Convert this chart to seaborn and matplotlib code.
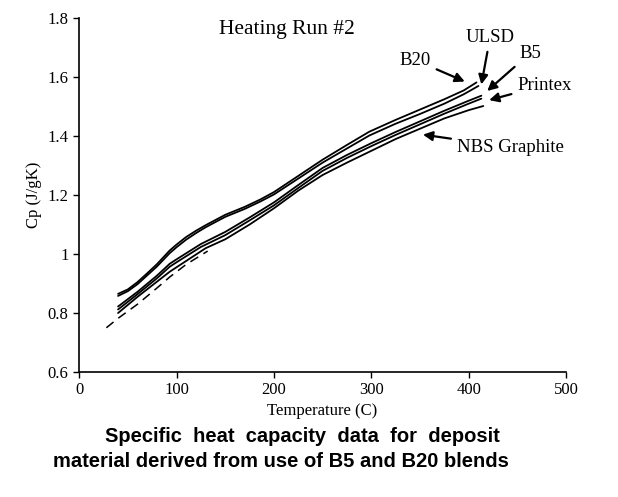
import numpy as np
import pandas as pd
import seaborn as sns
import matplotlib.pyplot as plt

# 데이터
t_b20 = [40, 50, 60, 70, 80, 93, 100, 110, 120, 130, 150, 170, 186, 200, 225, 250, 275, 298, 325, 350, 375, 395, 408]
cp_b20 = [0.865, 0.88, 0.905, 0.935, 0.966, 1.012, 1.032, 1.058, 1.079, 1.098, 1.133, 1.16, 1.185, 1.21, 1.265, 1.32, 1.37, 1.415, 1.455, 1.49, 1.525, 1.555, 1.582]

t_ulsd = [40, 50, 60, 70, 80, 93, 100, 110, 120, 130, 150, 170, 186, 200, 225, 250, 275, 298, 325, 350, 375, 395, 410]
cp_ulsd = [0.858, 0.874, 0.898, 0.928, 0.958, 1.003, 1.023, 1.049, 1.071, 1.091, 1.126, 1.153, 1.178, 1.202, 1.256, 1.31, 1.358, 1.402, 1.442, 1.475, 1.51, 1.542, 1.57]

t_b5 = [40, 50, 60, 80, 93, 100, 125, 150, 175, 200, 225, 250, 275, 300, 325, 350, 375, 400, 413]
cp_b5 = [0.822, 0.847, 0.872, 0.927, 0.967, 0.982, 1.034, 1.075, 1.124, 1.175, 1.234, 1.292, 1.336, 1.376, 1.414, 1.45, 1.486, 1.52, 1.537]

t_printex = [40, 50, 60, 80, 93, 100, 125, 150, 175, 200, 225, 250, 275, 300, 325, 350, 375, 400, 413]
cp_printex = [0.812, 0.838, 0.864, 0.918, 0.957, 0.972, 1.024, 1.064, 1.114, 1.165, 1.224, 1.282, 1.326, 1.366, 1.404, 1.44, 1.476, 1.51, 1.527]

t_nbs = [40, 60, 93, 130, 150, 175, 200, 225, 250, 275, 300, 325, 350, 375, 400, 415]
cp_nbs = [0.80, 0.855, 0.94, 1.02, 1.05, 1.10, 1.155, 1.215, 1.268, 1.31, 1.35, 1.39, 1.425, 1.46, 1.488, 1.502]

# 문헌값 (점선)
t_ref = [28, 40, 60, 80, 93, 110, 132]
cp_ref = [0.75, 0.782, 0.83, 0.885, 0.922, 0.965, 1.01]

series = {'B20': (t_b20, cp_b20), 'ULSD': (t_ulsd, cp_ulsd), 'B5': (t_b5, cp_b5),
          'Printex': (t_printex, cp_printex), 'NBS Graphite': (t_nbs, cp_nbs)}

sns.set_style('ticks')
plt.rcParams['font.family'] = ['Liberation Serif', 'DejaVu Serif']
plt.rcParams['text.color'] = 'black'

fig = plt.figure(figsize=(6.18, 4.97), dpi=100)
ax = fig.add_axes([0.128, 0.2515, 0.788, 0.712])

for name, (t, cp) in series.items():
    df = pd.DataFrame({'T': t, 'Cp': cp})
    sns.lineplot(data=df, x='T', y='Cp', ax=ax, color='black', lw=1.3)

ref_df = pd.DataFrame({'T': t_ref, 'Cp': cp_ref})
sns.lineplot(data=ref_df, x='T', y='Cp', ax=ax, color='black', lw=1.1, linestyle=(0, (6, 4)))

ax.set_xlim(0, 500)
ax.set_ylim(0.6, 1.8)
ax.set_xticks([0, 100, 200, 300, 400, 500])
ax.set_yticks([0.6, 0.8, 1.0, 1.2, 1.4, 1.6, 1.8])
ax.set_yticklabels(['0.6', '0.8', '1', '1.2', '1.4', '1.6', '1.8'])
ax.tick_params(labelsize=12, direction='out', length=4, width=1, colors='black')
ax.set_xlabel('Temperature (C)', fontsize=12, labelpad=3, color='black')
ax.set_ylabel('Cp (J/gK)', fontsize=12, labelpad=4, color='black')
sns.despine(ax=ax)
for s in ['left', 'bottom']:
    ax.spines[s].set_color('black')
    ax.spines[s].set_linewidth(1.2)

ax.text(213, 1.76, 'Heating Run #2', fontsize=15.5, ha='center', va='center')

arrow = dict(arrowstyle='-|>', color='black', lw=1.6, mutation_scale=14, shrinkA=2, shrinkB=0)
fs = 13.5
ax.annotate('B20', xy=(396, 1.585), xytext=(345, 1.658), fontsize=fs, ha='center', va='center', arrowprops=arrow)
ax.annotate('ULSD', xy=(413, 1.575), xytext=(422, 1.735), fontsize=fs, ha='center', va='center', arrowprops=arrow)
ax.annotate('B5', xy=(419, 1.553), xytext=(463, 1.681), fontsize=fs, ha='center', va='center', arrowprops=arrow)
ax.annotate('Printex', xy=(421, 1.522), xytext=(450, 1.573), fontsize=fs, ha='left', va='center', arrowprops=arrow)
ax.annotate('NBS Graphite', xy=(353, 1.405), xytext=(388, 1.362), fontsize=fs, ha='left', va='center', arrowprops=arrow)

fig.text(0.489, 0.121, 'Specific  heat  capacity  data  for  deposit', fontsize=14.5, fontweight='bold',
         family='Liberation Sans', ha='center', va='center', color='black')
fig.text(0.455, 0.071, 'material derived from use of B5 and B20 blends', fontsize=14.5, fontweight='bold',
         family='Liberation Sans', ha='center', va='center', color='black')

plt.savefig('out.png', dpi=100)
